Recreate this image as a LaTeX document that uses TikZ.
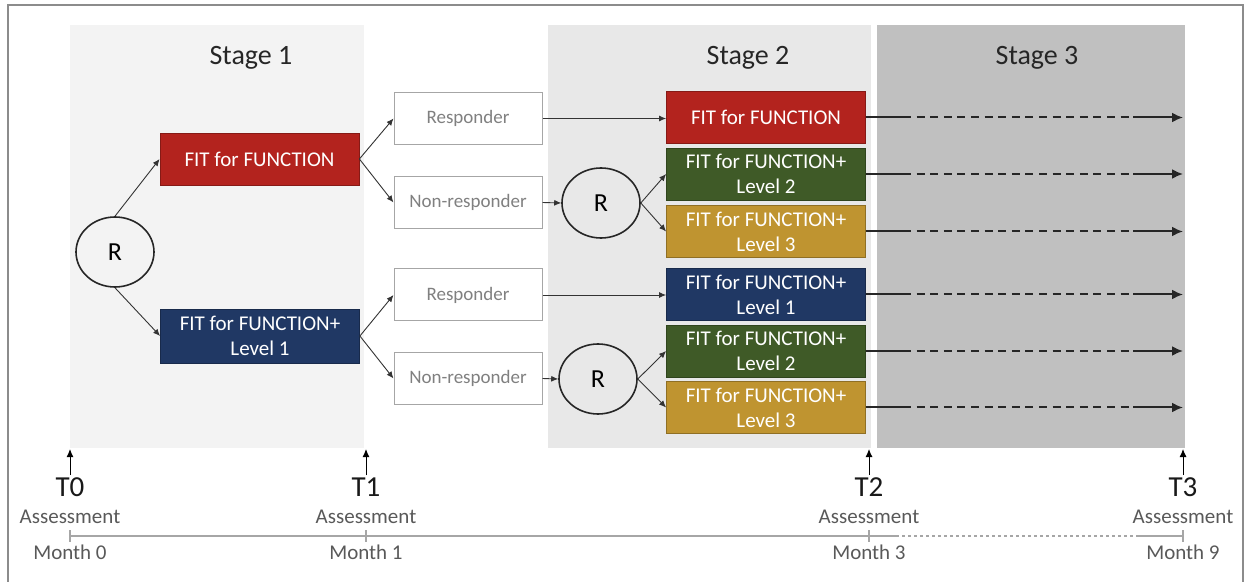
\documentclass[tikz,border=0pt]{standalone}
\usepackage{fontspec}
\setmainfont{Carlito}
\usetikzlibrary{arrows.meta,shapes.geometric}
\definecolor{fitred}{HTML}{B3231E}
\definecolor{fitgreen}{HTML}{3F5A27}
\definecolor{fitgold}{HTML}{BF9430}
\definecolor{fitblue}{HTML}{203864}
\definecolor{stone}{HTML}{F3F3F3}
\definecolor{sttwo}{HTML}{E8E8E8}
\definecolor{stthree}{HTML}{C0C0C0}
\definecolor{framegray}{HTML}{8C8C8C}
\definecolor{axisgray}{HTML}{A6A6A6}
\definecolor{labgray}{HTML}{595959}
\tikzset{
  fitbox/.style={rectangle, draw=#1!75!black, fill=#1, text=white, minimum width=99.5pt,
    minimum height=26pt, inner sep=1pt, align=center, line width=0.4pt,
    font=\fontsize{10.5}{12.5}\selectfont},
  respbox/.style={rectangle, draw=gray!70, fill=white, minimum width=74pt, minimum height=26pt,
    inner sep=1pt, text=gray, line width=0.5pt, font=\fontsize{9.5}{11}\selectfont},
  rnode/.style={ellipse, draw=black!85, line width=0.8pt, minimum width=39pt, minimum height=35pt,
    inner sep=0pt, font=\fontsize{13}{15}\selectfont},
  conn/.style={-{Latex[length=3.5pt,width=3pt]}, line width=0.45pt, draw=black!80},
  seg/.style={line width=1pt, draw=black!85},
  dashseg/.style={line width=1pt, draw=black!85, dash pattern=on 4pt off 2.8pt},
  bigarrow/.style={-{Latex[length=5.5pt,width=5pt]}, line width=1pt, draw=black!85},
  uparrow/.style={-{Latex[length=4pt,width=3.5pt]}, line width=0.5pt, draw=black},
  stagelab/.style={font=\fontsize{14}{16}\selectfont, text=black!85},
  tlab/.style={font=\fontsize{14.5}{16}\selectfont, text=black!90, inner sep=1pt},
  smalllab/.style={font=\fontsize{10.5}{12}\selectfont, text=labgray, inner sep=0pt},
  axisline/.style={line width=0.6pt, draw=axisgray},
}
\begin{document}
\begin{tikzpicture}[x=0.5pt,y=-0.5pt]
\useasboundingbox (0,0) rectangle (1247,582);
\fill[white] (0,0) rectangle (1247,582);
\draw[framegray, line width=0.8pt] (8,582) -- (8,5) -- (1243,5) -- (1243,582);
% stage backgrounds
\fill[stone] (70,25) rectangle (364,448);
\fill[sttwo] (548,25) rectangle (871,448);
\fill[stthree] (877,25) rectangle (1185,448);
% stage labels
\node[stagelab] (s1) at (251,58) {Stage 1};
\node[stagelab] (s2) at (748,58) {Stage 2};
\node[stagelab] (s3) at (1037,58) {Stage 3};
% stage 1
\node[rnode] (R1) at (115,252) {R};
\node[fitbox=fitred] (red1) at (259.5,159) {FIT for FUNCTION};
\node[fitbox=fitblue, minimum height=27pt] (blue1) at (260,336) {FIT for FUNCTION+\\Level 1};
% responders
\node[respbox] (resp1) at (468,118.5) {Responder};
\node[respbox] (nr1) at (468,202.5) {Non-responder};
\node[respbox] (resp2) at (468,295) {Responder};
\node[respbox] (nr2) at (468,378.5) {Non-responder};
% stage 2
\node[rnode] (R2) at (601,203) {R};
\node[rnode] (R3) at (598,379) {R};
\node[fitbox=fitred] (red2) at (766,117.5) {FIT for FUNCTION};
\node[fitbox=fitgreen] (green1) at (766,174) {FIT for FUNCTION+\\Level 2};
\node[fitbox=fitgold] (gold1) at (766,231.5) {FIT for FUNCTION+\\Level 3};
\node[fitbox=fitblue] (blue2) at (766,294.5) {FIT for FUNCTION+\\Level 1};
\node[fitbox=fitgreen] (green2) at (766,351) {FIT for FUNCTION+\\Level 2};
\node[fitbox=fitgold] (gold2) at (766,407.5) {FIT for FUNCTION+\\Level 3};
% connectors
\draw[conn] (R1.north) -- (red1.west);
\draw[conn] (R1.south) -- (blue1.west);
\draw[conn] (red1.east) -- (resp1.west);
\draw[conn] (red1.east) -- (nr1.west);
\draw[conn] (blue1.east) -- (resp2.west);
\draw[conn] (blue1.east) -- (nr2.west);
\draw[conn] (resp1.east) -- (resp1.east -| red2.west);
\draw[conn] (resp2.east) -- (resp2.east -| blue2.west);
\draw[conn] (nr1.east) -- (R2.west);
\draw[conn] (nr2.east) -- (R3.west);
\draw[conn] (R2.east) -- (green1.west);
\draw[conn] (R2.east) -- (gold1.west);
\draw[conn] (R3.east) -- (green2.west);
\draw[conn] (R3.east) -- (gold2.west);
% stage 3 arrows
\coordinate (xA) at (903,0);
\coordinate (xB) at (1133,0);
\coordinate (xC) at (1183,0);
\foreach \b in {red2,green1,gold1,blue2,green2,gold2}{
  \draw[seg] (\b.east) -- (\b.east -| xA);
  \draw[dashseg] (\b.east -| xA) -- (\b.east -| xB);
  \draw[bigarrow] (\b.east -| xB) -- (\b.east -| xC);
}
% timeline
\coordinate (tip) at (0,449);
\node[tlab] (t0) at (70,487) {T0};
\node[tlab] (t1) at (366,487) {T1};
\node[tlab] (t2) at (869,487) {T2};
\node[tlab] (t3) at (1183,487) {T3};
\foreach \t in {t0,t1,t2,t3}{
  \draw[uparrow] (\t.north) -- (\t.north |- tip);
}
\node[smalllab] (a0) at (70,517) {Assessment};
\node[smalllab] (a1) at (366,517) {Assessment};
\node[smalllab] (a2) at (869,517) {Assessment};
\node[smalllab] (a3) at (1183,517) {Assessment};
\coordinate (m0) at (70,536);
\coordinate (m1) at (366,536);
\coordinate (m2) at (869,536);
\coordinate (m3) at (1183,536);
\coordinate (dotA) at (896,536);
\coordinate (dotB) at (1136,536);
\draw[axisline] (m0) -- (dotA);
\draw[axisline, dash pattern=on 1.5pt off 1.5pt] (dotA) -- (dotB);
\draw[axisline] (dotB) -- (m3);
\foreach \m in {m0,m1,m2,m3}{
  \draw[axisline] ([yshift=3pt]\m) -- ([yshift=-3pt]\m);
}
\node[smalllab] (mo0) at (70,552) {Month 0};
\node[smalllab] (mo1) at (366,552) {Month 1};
\node[smalllab] (mo2) at (869,552) {Month 3};
\node[smalllab] (mo3) at (1183,552) {Month 9};
\end{tikzpicture}
\end{document}
